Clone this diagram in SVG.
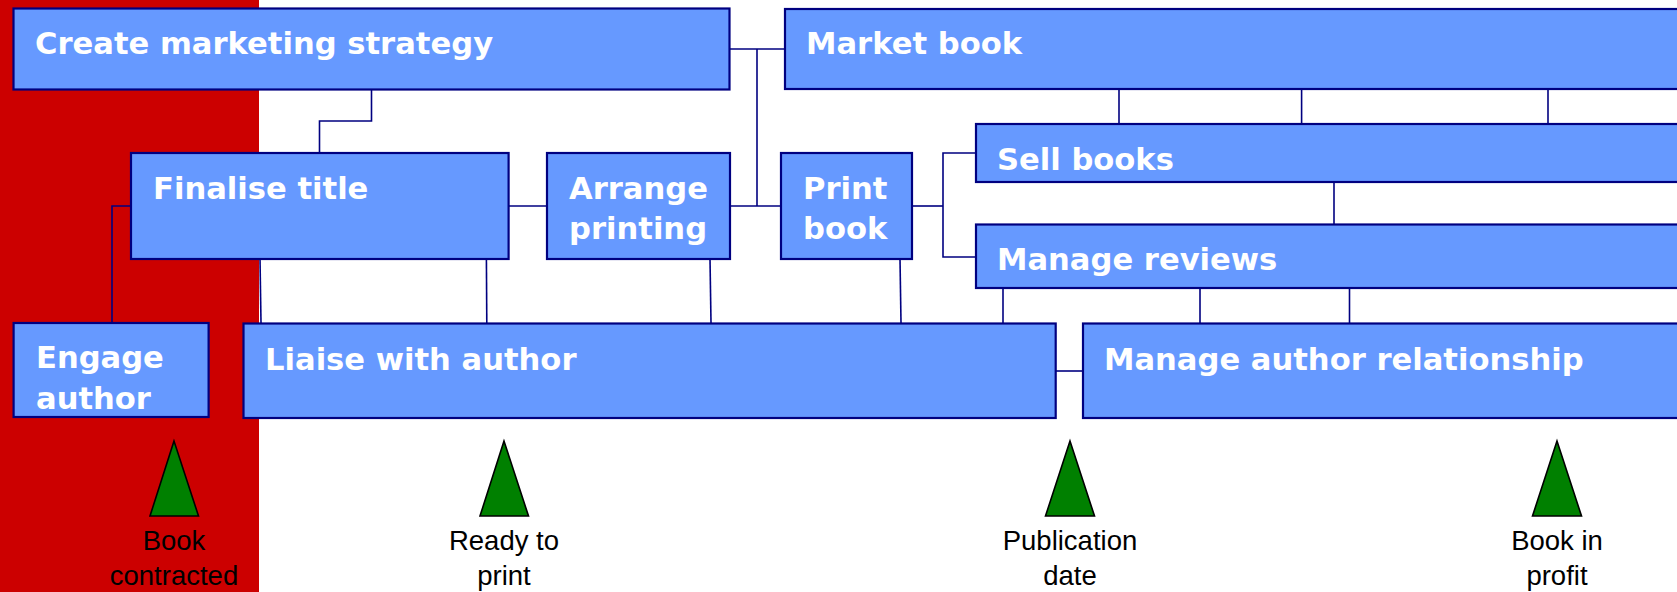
<svg xmlns="http://www.w3.org/2000/svg" width="1677" height="592" viewBox="0 0 1677 592">
<style>
.box{fill:#6699FF;stroke:#000080;stroke-width:2.2}
.lbl{font-family:"DejaVu Sans",Verdana,sans-serif;font-weight:bold;font-size:30.6px;fill:#FFFFFF}
.ms{fill:#008000;stroke:#000000;stroke-width:1.6;stroke-linejoin:miter}
.mt{font-family:"Liberation Sans",Arial,sans-serif;font-size:27.5px;fill:#000000;text-anchor:middle}
#connectors path{fill:none;stroke:#000080;stroke-width:1.6}
</style>
<rect x="0" y="0" width="1677" height="592" fill="#FFFFFF"/>
<rect id="red-zone" x="0" y="0" width="259" height="592" fill="#CC0000"/>
<g id="connectors">
<path d="M371.5,89.5 V121 H319.5 V153"/>
<path d="M729.5,49 H785"/>
<path d="M757,49 V206"/>
<path d="M508.6,206 H547"/>
<path d="M730,206 H781"/>
<path d="M912,206 H943"/>
<path d="M976,153 H943 V257 H976"/>
<path d="M131,206 H112 V323"/>
<path d="M260,259 L261,323"/>
<path d="M486.4,259 L486.8,323"/>
<path d="M710,259 L711,323"/>
<path d="M900,259 L901,323"/>
<path d="M1003,288 V323"/>
<path d="M1200,288 V323"/>
<path d="M1349.5,288 V323"/>
<path d="M1055.7,371 H1083"/>
<path d="M1119,89 V124"/>
<path d="M1301.6,89 V124"/>
<path d="M1548,89 V124"/>
<path d="M1334,182 V224.5"/>
</g>
<g id="create-marketing-strategy">
<rect class="box" x="13.5" y="8.5" width="716" height="81"/>
<text class="lbl" x="35" y="53.5">Create marketing strategy</text>
</g>
<g id="market-book">
<rect class="box" x="785" y="9" width="910" height="80"/>
<text class="lbl" x="806" y="54">Market book</text>
</g>
<g id="finalise-title">
<rect class="box" x="131" y="153" width="377.6" height="106"/>
<text class="lbl" x="153" y="199">Finalise title</text>
</g>
<g id="arrange-printing">
<rect class="box" x="547" y="153" width="183" height="106"/>
<text class="lbl" x="569" y="199">Arrange</text>
<text class="lbl" x="569" y="239">printing</text>
</g>
<g id="print-book">
<rect class="box" x="781" y="153" width="131" height="106"/>
<text class="lbl" x="803" y="199">Print</text>
<text class="lbl" x="803" y="239">book</text>
</g>
<g id="sell-books">
<rect class="box" x="976" y="124" width="720" height="58"/>
<text class="lbl" x="997" y="170">Sell books</text>
</g>
<g id="manage-reviews">
<rect class="box" x="976" y="224.5" width="720" height="63.5"/>
<text class="lbl" x="997" y="270">Manage reviews</text>
</g>
<g id="engage-author">
<rect class="box" x="13.6" y="323" width="195" height="94"/>
<text class="lbl" x="36" y="368">Engage</text>
<text class="lbl" x="36" y="409">author</text>
</g>
<g id="liaise-with-author">
<rect class="box" x="243.5" y="323.5" width="812.2" height="94.5"/>
<text class="lbl" x="265" y="370">Liaise with author</text>
</g>
<g id="manage-author-relationship">
<rect class="box" x="1083" y="323.5" width="620" height="94.5"/>
<text class="lbl" x="1104" y="370">Manage author relationship</text>
</g>
<g id="milestone-book-contracted">
<polygon class="ms" points="174,441 150,516 198.5,516"/>
<text class="mt" x="174" y="550">Book</text>
<text class="mt" x="174" y="585">contracted</text>
</g>
<g id="milestone-ready-to-print">
<polygon class="ms" points="504,441 480,516 528.5,516"/>
<text class="mt" x="504" y="550">Ready to</text>
<text class="mt" x="504" y="585">print</text>
</g>
<g id="milestone-publication-date">
<polygon class="ms" points="1070,441 1045.5,516 1094.5,516"/>
<text class="mt" x="1070" y="550">Publication</text>
<text class="mt" x="1070" y="585">date</text>
</g>
<g id="milestone-book-in-profit">
<polygon class="ms" points="1557,441 1532.5,516 1581.5,516"/>
<text class="mt" x="1557" y="550">Book in</text>
<text class="mt" x="1557" y="585">profit</text>
</g>
</svg>
